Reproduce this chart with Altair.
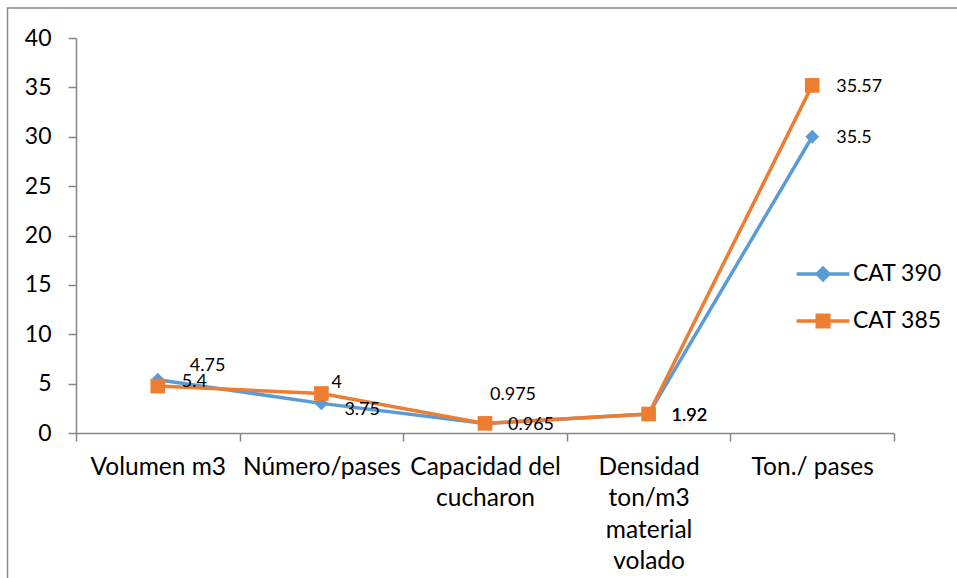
import json
import altair as alt
import pandas as pd

# ---- data ----
categories = ["Volumen m3", "Número/pases", "Capacidad del cucharon",
              "Densidad ton/m3 material volado", "Ton./ pases"]
category_lines = [["Volumen m3"], ["Número/pases"], ["Capacidad del", "cucharon"],
                  ["Densidad", "ton/m3", "material", "volado"], ["Ton./ pases"]]
series_names = ["CAT 390", "CAT 385"]
cat390_values = [5.4, 3.0, 0.965, 1.92, 30.0]
cat385_values = [4.75, 4.0, 0.975, 1.92, 35.2]
cat390_labels = ["5.4", "3.75", "0.965", "1.92", "35.5"]
cat385_labels = ["4.75", "4", "0.975", "1.92", "35.57"]
y_ticks = [0, 5, 10, 15, 20, 25, 30, 35, 40]

# ---- styling ----
colors = ["#5B9BD5", "#ED7D31"]
FONT = "Lato"
AXIS_GRAY = "#868686"
W, H = 818, 395
cat390_offsets = [(24, 2), (23, 7), (23, 1.5), (23, 2), (24, 1)]
cat385_offsets = [(32, -20), (10, -11), (5, -28), (23, 2), (24, 1.5)]

rows = []
for s, vals, labs in [(series_names[0], cat390_values, cat390_labels),
                      (series_names[1], cat385_values, cat385_labels)]:
    for c, v, l in zip(categories, vals, labs):
        rows.append({"category": c, "series": s, "value": v, "label": l})
df = pd.DataFrame(rows)

# multi-line x labels
expr = "datum.label"
for c, lines in reversed(list(zip(categories, category_lines))):
    expr = f"datum.label == {json.dumps(c)} ? {json.dumps(lines)} : ({expr})"

x_enc = alt.X("category:N", sort=categories,
              scale=alt.Scale(type="band", domain=categories, paddingInner=0, paddingOuter=0),
              axis=alt.Axis(title=None, labelAngle=0, tickBand="extent", tickSize=8,
                            domainColor=AXIS_GRAY, tickColor=AXIS_GRAY, domainWidth=1.5,
                            tickWidth=1.5, labelFont=FONT, labelFontSize=24.5,
                            labelColor="black", labelLineHeight=31.5, labelPadding=14,
                            labelLimit=0, labelExpr=expr, labelAlign="center",
                            labelBaseline="top"))
y_enc = alt.Y("value:Q", scale=alt.Scale(domain=[0, 40], nice=False, zero=True),
              axis=alt.Axis(title=None, values=y_ticks, grid=False, tickSize=8,
                            domainColor=AXIS_GRAY, tickColor=AXIS_GRAY, domainWidth=1.5,
                            tickWidth=1.5, labelFont=FONT, labelFontSize=23,
                            labelColor="black", labelPadding=17))

base = alt.Chart(df).encode(x=x_enc, y=y_enc)

layers = []
# chart-area frame (decoration)
frame = alt.Chart(pd.DataFrame({"k": [0]})).mark_rect(
    filled=False, stroke="#8c8c8c", strokeWidth=1.5, clip=False
).encode(x=alt.value(-68.5), x2=alt.value(W + 200), y=alt.value(-30), y2=alt.value(H + 300))
layers.append(frame)

marker_shapes = ["diamond", "square"]
marker_sizes = [190, 215]
for s, col, shp, sz in zip(series_names, colors, marker_shapes, marker_sizes):
    sub = base.transform_filter(alt.datum.series == s)
    layers.append(sub.mark_line(strokeWidth=3.5, color=col))
    layers.append(sub.mark_point(shape=shp, filled=True, size=sz, opacity=1, color=col))

# legend-only layer (no marks drawn: filtered to nothing, explicit domains)
legend_paths = [
    "M-1.1,0H1.1M0,-0.24L0.24,0L0,0.24L-0.24,0Z",
    "M-1.1,0H1.1M-0.24,-0.24H0.24V0.24H-0.24Z",
]
leg = alt.Legend(title=None, orient="none", legendX=721, legendY=210,
                 symbolSize=2304, symbolStrokeWidth=3.5, symbolOpacity=1,
                 labelFont=FONT, labelFontSize=23, labelColor="black",
                 labelOffset=4, rowPadding=8, padding=0)
legend_layer = alt.Chart(df).transform_filter("false").mark_point(filled=True, opacity=1).encode(
    x=x_enc, y=y_enc,
    color=alt.Color("series:N", scale=alt.Scale(domain=series_names, range=colors), legend=leg),
    stroke=alt.Stroke("series:N", scale=alt.Scale(domain=series_names, range=colors), legend=leg),
    shape=alt.Shape("series:N", scale=alt.Scale(domain=series_names, range=legend_paths), legend=leg),
)
layers.append(legend_layer)

# data labels
for s, labs, offs in [(series_names[0], cat390_labels, cat390_offsets),
                      (series_names[1], cat385_labels, cat385_offsets)]:
    for c, l, (dx, dy) in zip(categories, labs, offs):
        sub = alt.Chart(df).transform_filter(
            (alt.datum.series == s) & (alt.datum.category == c)
        ).mark_text(align="left", baseline="middle", dx=dx, dy=dy, font=FONT,
                    fontSize=18, color="black").encode(x=x_enc, y=y_enc, text="label:N")
        layers.append(sub)

chart = alt.layer(*layers).properties(
    width=W, height=H,
    padding={"left": 76, "top": 38, "right": 63, "bottom": 145},
    autosize=alt.AutoSizeParams(type="none"),
    background="white",
).configure_view(stroke=None)

chart.save("out.html", embed_options={"renderer": "svg", "actions": False})
